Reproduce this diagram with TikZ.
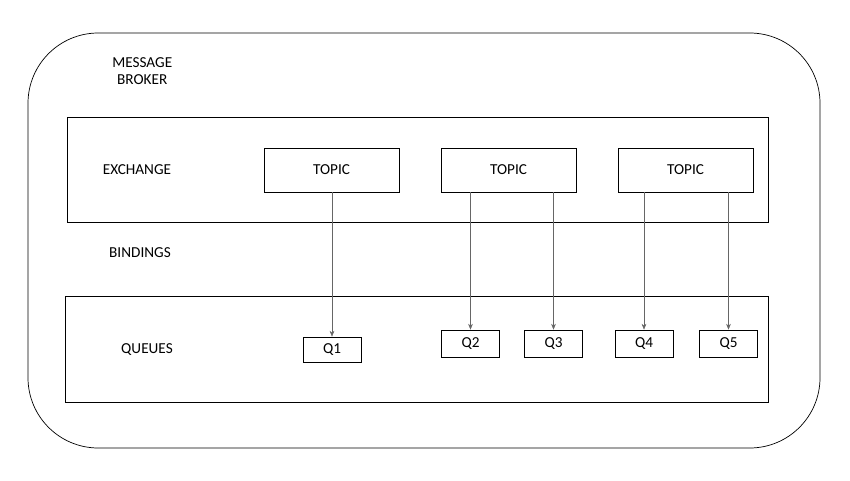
\documentclass[tikz,border=0pt]{standalone}
\usepackage{fontspec}
\setmainfont{Carlito}
\usetikzlibrary{positioning, arrows.meta}
\tikzset{
	every text node part/.style= {
		align=center
	},
	box/.style= {
		rectangle,
		draw,
		black,
		inner sep=0pt
	},
	label/.style= {
		font=\fontsize{13}{15}\selectfont,
		align=left
	},
	link/.style= {
		-{Stealth[length=5pt,width=4pt]},
		draw=black!60,
		thin
	}
}
\begin{document}
\begin{tikzpicture}[x=0.03cm, y=-0.03cm, font=\fontsize{13}{15}\selectfont, semithick]
		\useasboundingbox (0,0) rectangle (850,480);
		\draw[rounded corners=60] (28,33) rectangle (820,448);
		\draw (67,117) rectangle (768,222);
		\draw (65,296) rectangle (768,402);
		
		\node (broker)[label, anchor=west] at (108,71) {MESSAGE\\BROKER};
		\node (exchange)[label] at (137,170) {EXCHANGE};
		\node (bindings)[label] at (140,253) {BINDINGS};
		\node (queues)[label] at (147,350) {QUEUES};
		
		\foreach[count=\i] \x in {331.5, 508.5, 685.5}
		{
			\node (topic\i)[box, minimum width=135*0.03cm, minimum height=44*0.03cm] at (\x,170) {TOPIC};
		}
		
		\node (q1)[box, minimum width=58*0.03cm, minimum height=25*0.03cm] at (332,349.5) {Q1};
		\foreach[count=\i from 2] \x in {470.5, 553.5, 644, 728.5}
		{
			\node (q\i)[box, minimum width=58*0.03cm, minimum height=27*0.03cm] at (\x,343.5) {Q\i};
		}
		
		\draw[link] (topic1.south -| q1) -- (q1);
		\draw[link] (topic2.south -| q2) -- (q2);
		\draw[link] (topic2.south -| q3) -- (q3);
		\draw[link] (topic3.south -| q4) -- (q4);
		\draw[link] (topic3.south -| q5) -- (q5);
\end{tikzpicture}
\end{document}
